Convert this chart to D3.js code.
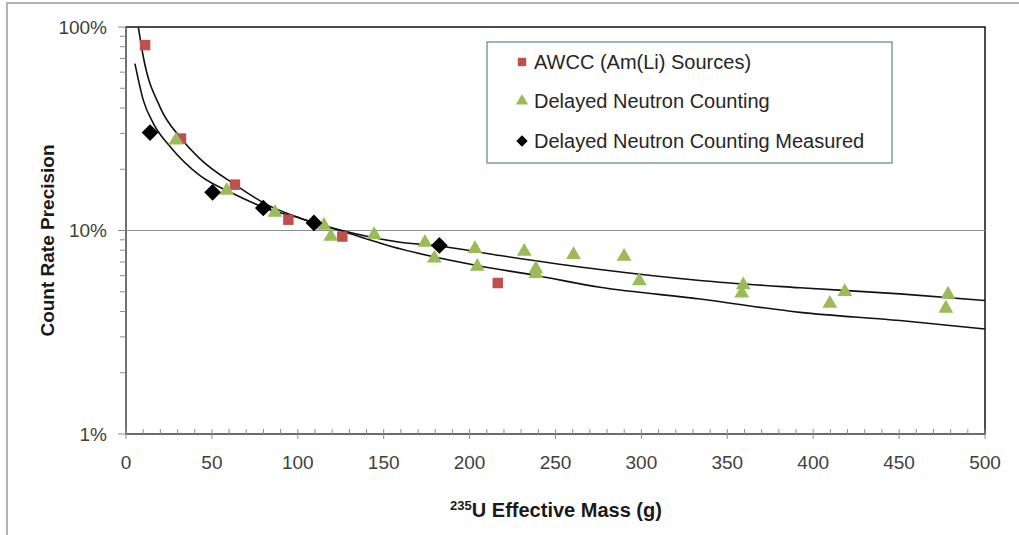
<!DOCTYPE html>
<html>
<head>
<meta charset="utf-8">
<script src="https://d3js.org/d3.v7.min.js"></script>
<style>
  body { margin: 0; background: #fff; }
  text { font-family: "Liberation Sans", Arial, sans-serif; }
</style>
</head>
<body>
<script>
// AWCC (Am(Li) Sources)
const awccMass = [11.1, 32, 63.4, 94.5, 125.9, 216.4];
const awccPrec = [81.5, 28.3, 16.8, 11.3, 9.34, 5.52];

// Delayed Neutron Counting
const dncMass = [29.1, 58.6, 86.7, 115.2, 119.2, 144.4, 174, 179.5, 203.1, 204.5, 231.8, 238.6, 238.6,
                 260.5, 289.9, 298.8, 359.3, 358.4, 409.7, 418.4, 478.5, 477.2];
const dncPrec = [28.1, 15.9, 12.4, 10.7, 9.45, 9.63, 8.83, 7.39, 8.22, 6.73, 7.97, 6.55, 6.2,
                 7.68, 7.53, 5.72, 5.46, 4.97, 4.43, 5.06, 4.91, 4.19];

// Delayed Neutron Counting Measured
const measMass = [14, 50.4, 79.9, 109.4, 182.4];
const measPrec = [30.3, 15.4, 12.9, 10.9, 8.44];

// the two fit curves
const fitAMass = [7.2, 10.1, 19.8, 32, 43.1, 63.4, 82.1, 101.3, 124.6, 159.5, 204.3, 238.6, 275.9, 334.1, 392.3, 450.5, 500];
const fitAPrec = [99.7, 71.2, 40.4, 28.4, 22.5, 16.8, 13.4, 11.5, 10.0, 8.13, 6.73, 6.01, 5.26, 4.61, 3.96, 3.61, 3.28];
const fitBMass = [5.2, 10.1, 15.9, 26.6, 43.1, 62.3, 82.1, 101.3, 124.6, 159.5, 182.2, 217.7, 275.9, 334.1, 392.3, 450.5, 500];
const fitBPrec = [66.1, 43.6, 33.6, 25.3, 18.6, 15.2, 12.8, 11.5, 10.05, 8.76, 8.39, 7.53, 6.43, 5.68, 5.23, 4.88, 4.53];

const xTicks = [0, 50, 100, 150, 200, 250, 300, 350, 400, 450, 500];
const yTicks = [1, 10, 100];
const yTickLabels = ["1%", "10%", "100%"];
const legendLabels = ["AWCC (Am(Li) Sources)", "Delayed Neutron Counting", "Delayed Neutron Counting Measured"];

const width = 1019, height = 535;
const plotLeft = 126, plotRight = 985, plotTop = 27, plotBottom = 434;

const svg = d3.select("body").append("svg")
    .attr("width", width)
    .attr("height", height);

// outer frame
svg.append("rect")
    .attr("x", 7).attr("y", 3)
    .attr("width", width + 10).attr("height", height + 10)
    .attr("fill", "none")
    .attr("stroke", "#b3b3b3")
    .attr("stroke-width", 2);

const x = d3.scaleLinear().domain([0, 500]).range([plotLeft, plotRight]);
const y = d3.scaleLog().domain([1, 100]).range([plotBottom, plotTop]);

// plot area border
svg.append("rect")
    .attr("x", plotLeft).attr("y", plotTop)
    .attr("width", plotRight - plotLeft).attr("height", plotBottom - plotTop)
    .attr("fill", "none")
    .attr("stroke", "#111")
    .attr("stroke-width", 1.5);

// gridline at 10%
svg.append("line")
    .attr("x1", plotLeft).attr("x2", plotRight)
    .attr("y1", y(10)).attr("y2", y(10))
    .attr("stroke", "#8c8c8c").attr("stroke-width", 1.2);

// y axis
const yMinor = [];
[1, 10].forEach(d => { for (let k = 2; k <= 9; k++) yMinor.push(d * k); });
const yAxis = svg.append("g");
yAxis.append("line")
    .attr("x1", plotLeft).attr("x2", plotLeft).attr("y1", plotTop).attr("y2", plotBottom)
    .attr("stroke", "#8c8c8c").attr("stroke-width", 1.2);
yAxis.selectAll(".minor").data(yMinor).enter().append("line")
    .attr("x1", plotLeft - 6).attr("x2", plotLeft)
    .attr("y1", d => y(d)).attr("y2", d => y(d))
    .attr("stroke", "#8c8c8c");
yAxis.selectAll(".major").data(yTicks).enter().append("line")
    .attr("x1", plotLeft - 8).attr("x2", plotLeft)
    .attr("y1", d => y(d)).attr("y2", d => y(d))
    .attr("stroke", "#8c8c8c");
yAxis.selectAll("text").data(yTicks).enter().append("text")
    .attr("x", plotLeft - 19)
    .attr("y", d => y(d))
    .attr("dy", "0.35em")
    .attr("text-anchor", "end")
    .attr("font-size", 19)
    .attr("fill", "#404040")
    .text((d, i) => yTickLabels[i]);

// x axis
const xMinor = d3.range(0, 501, 10).filter(d => d % 50 != 0);
const xAxis = svg.append("g");
xAxis.append("line")
    .attr("x1", plotLeft).attr("x2", plotRight).attr("y1", plotBottom).attr("y2", plotBottom)
    .attr("stroke", "#8c8c8c").attr("stroke-width", 1.2);
xAxis.selectAll(".minor").data(xMinor).enter().append("line")
    .attr("x1", d => x(d)).attr("x2", d => x(d))
    .attr("y1", plotBottom - 5).attr("y2", plotBottom)
    .attr("stroke", "#8c8c8c");
xAxis.selectAll(".major").data(xTicks).enter().append("line")
    .attr("x1", d => x(d)).attr("x2", d => x(d))
    .attr("y1", plotBottom - 5).attr("y2", plotBottom + 5)
    .attr("stroke", "#8c8c8c");
xAxis.selectAll("text").data(xTicks).enter().append("text")
    .attr("x", d => x(d))
    .attr("y", plotBottom + 35)
    .attr("text-anchor", "middle")
    .attr("font-size", 19)
    .attr("fill", "#404040")
    .text(d => d);

// axis titles
svg.append("text")
    .attr("transform", "translate(54," + (y(10) + 10) + ") rotate(-90)")
    .attr("text-anchor", "middle")
    .attr("font-size", 19)
    .attr("font-weight", "bold")
    .attr("fill", "#1a1a1a")
    .text("Count Rate Precision");

const xt = svg.append("text")
    .attr("x", 556).attr("y", 517)
    .attr("text-anchor", "middle")
    .attr("font-size", 20)
    .attr("font-weight", "bold")
    .attr("fill", "#1a1a1a");
xt.append("tspan").attr("font-size", 13).attr("dy", -7).text("235");
xt.append("tspan").attr("dy", 7).text("U Effective Mass (g)");

// fit lines
const line = d3.line()
    .x(d => x(d[0]))
    .y(d => y(d[1]))
    .curve(d3.curveMonotoneX);

[[fitAMass, fitAPrec], [fitBMass, fitBPrec]].forEach(f => {
    svg.append("path")
        .datum(f[0].map((m, i) => [m, f[1][i]]))
        .attr("d", line)
        .attr("fill", "none")
        .attr("stroke", "#111")
        .attr("stroke-width", 1.6);
});

const square = d3.symbol().type(d3.symbolSquare).size(110);
const triangle = d3.symbol().type(d3.symbolTriangle).size(95);
const diamond = d3.symbol().type(d3.symbolSquare).size(140);

svg.append("g").selectAll("path")
    .data(awccMass.map((m, i) => [m, awccPrec[i]]))
    .enter().append("path")
    .attr("d", square)
    .attr("transform", d => "translate(" + x(d[0]) + "," + y(d[1]) + ")")
    .attr("fill", "#c0504d");

svg.append("g").selectAll("path")
    .data(dncMass.map((m, i) => [m, dncPrec[i]]))
    .enter().append("path")
    .attr("d", triangle)
    .attr("transform", d => "translate(" + x(d[0]) + "," + (y(d[1]) + 1) + ")")
    .attr("fill", "#9bbb59");

svg.append("g").selectAll("path")
    .data(measMass.map((m, i) => [m, measPrec[i]]))
    .enter().append("path")
    .attr("d", diamond)
    .attr("transform", d => "translate(" + x(d[0]) + "," + y(d[1]) + ") rotate(45)")
    .attr("fill", "#000");

// legend
const lg = svg.append("g");
lg.append("rect")
    .attr("x", 487).attr("y", 42)
    .attr("width", 405).attr("height", 121)
    .attr("fill", "#fff")
    .attr("stroke", "#5b8597")
    .attr("stroke-width", 1.2);

const legendY = [62, 101, 141];
const legendSym = [
    { d: d3.symbol().type(d3.symbolSquare).size(70)(), fill: "#c0504d", rot: 0 },
    { d: d3.symbol().type(d3.symbolTriangle).size(65)(), fill: "#9bbb59", rot: 0 },
    { d: d3.symbol().type(d3.symbolSquare).size(65)(), fill: "#000", rot: 45 }
];
legendLabels.forEach((t, i) => {
    lg.append("path")
        .attr("d", legendSym[i].d)
        .attr("transform", "translate(522," + legendY[i] + ") rotate(" + legendSym[i].rot + ")")
        .attr("fill", legendSym[i].fill);
    lg.append("text")
        .attr("x", 534).attr("y", legendY[i])
        .attr("dy", "0.35em")
        .attr("font-size", 20)
        .attr("fill", "#262626")
        .text(t);
});
</script>
</body>
</html>
